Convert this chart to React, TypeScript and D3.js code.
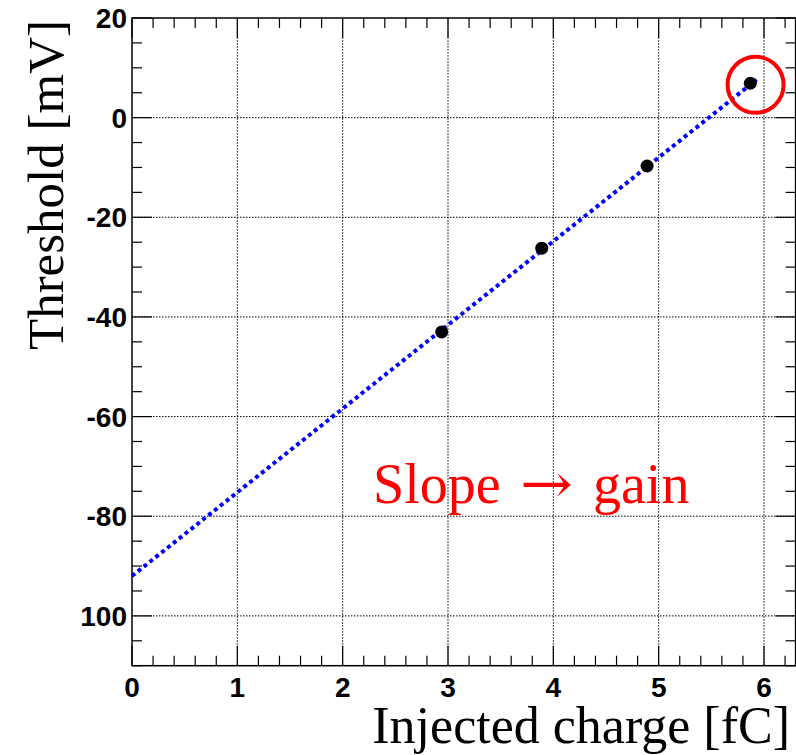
import React from "react";
import * as d3 from "d3";

// Measured thresholds vs injected charge
const charge = [2.94, 3.89, 4.89, 5.87];
const threshold = [-43.0, -26.2, -9.7, 6.9];

// Linear fit: threshold = intercept + slope * charge
const fitIntercept = -92.0;
const fitSlope = 16.8;
const fitRange = [0, 5.93];

const xMajor = [0, 1, 2, 3, 4, 5, 6];
const yMajor = [20, 0, -20, -40, -60, -80, -100];
const yLabels = ["20", "0", "-20", "-40", "-60", "-80", "100"];

// Highlighted point
const highlight = { x: 5.92, y: 6.6 };

const W = 796;
const H = 755;

export default function App() {
  const x = d3.scaleLinear().domain([0, 6.3]).range([132, 795.6]);
  const y = d3.scaleLinear().domain([-110, 20]).range([665.7, 18]);
  const [x0, x1] = x.range();
  const [y0, y1] = y.range();

  const xMinor = d3.range(0, 6.3001, 0.2);
  const yMinor = d3.range(-110, 20.001, 5);

  const fitLine = d3
    .line<number>()
    .x((d) => x(d))
    .y((d) => y(fitIntercept + fitSlope * d));

  const tickFont = "'Liberation Sans', Arial, sans-serif";
  const serif = "'Liberation Serif', 'Times New Roman', serif";

  return (
    <svg
      width={W}
      height={H}
      style={{ position: "absolute", left: 0, top: 0, background: "#fff" }}
    >
      {/* grid */}
      <g stroke="#000" strokeWidth={1} strokeDasharray="1.5,1.5">
        {xMajor
          .filter((v) => v > 0)
          .map((v) => (
            <line key={"gx" + v} x1={x(v)} x2={x(v)} y1={y0} y2={y1} />
          ))}
        {yMajor
          .filter((v) => v < 20)
          .map((v) => (
            <line key={"gy" + v} x1={x0} x2={x1} y1={y(v)} y2={y(v)} />
          ))}
      </g>

      {/* frame */}
      <rect
        x={x0}
        y={y1}
        width={x1 - x0}
        height={y0 - y1}
        fill="none"
        stroke="#000"
        strokeWidth={1.5}
      />

      {/* ticks */}
      <g stroke="#000" strokeWidth={1.2}>
        {xMinor.map((v, i) => {
          const major = Math.abs(v - Math.round(v)) < 1e-6;
          const len = major ? 20 : 10;
          return (
            <g key={"tx" + i}>
              <line x1={x(v)} x2={x(v)} y1={y0} y2={y0 - len} />
              <line x1={x(v)} x2={x(v)} y1={y1} y2={y1 + len} />
            </g>
          );
        })}
        {yMinor.map((v, i) => {
          const major = Math.abs(v % 20) < 1e-6;
          const len = major ? 20 : 10;
          return (
            <g key={"ty" + i}>
              <line x1={x0} x2={x0 + len} y1={y(v)} y2={y(v)} />
              <line x1={x1} x2={x1 - len} y1={y(v)} y2={y(v)} />
            </g>
          );
        })}
      </g>

      {/* tick labels */}
      <g fontFamily={tickFont} fontWeight="bold" fontSize={28} fill="#000">
        {xMajor.map((v) => (
          <text key={"lx" + v} x={x(v)} y={697} textAnchor="middle">
            {String(v)}
          </text>
        ))}
        {yMajor.map((v, i) => (
          <text
            key={"ly" + v}
            x={127}
            y={y(v)}
            dy="0.36em"
            textAnchor="end"
          >
            {yLabels[i]}
          </text>
        ))}
      </g>

      {/* axis titles */}
      <text
        x={790}
        y={743}
        textAnchor="end"
        fontFamily={serif}
        fontSize={52}
        fill="#000"
      >
        Injected charge [fC]
      </text>
      <text
        transform={`translate(63, ${y1 + 2}) rotate(-90)`}
        textAnchor="end"
        fontFamily={serif}
        fontSize={51}
        fill="#000"
      >
        Threshold [mV]
      </text>

      {/* fit line */}
      <path
        d={fitLine(d3.range(fitRange[0], fitRange[1] + 1e-9, fitRange[1] / 50)) || ""}
        fill="none"
        stroke="#0000ff"
        strokeWidth={4}
        strokeDasharray="4,3.5"
      />

      {/* data points */}
      <g fill="#000">
        {charge.map((c, i) => (
          <circle key={"p" + i} cx={x(c)} cy={y(threshold[i])} r={6.5} />
        ))}
      </g>

      {/* highlight ring */}
      <circle
        cx={x(highlight.x)}
        cy={y(highlight.y)}
        r={28}
        fill="none"
        stroke="#ff0000"
        strokeWidth={4}
      />

      {/* annotation */}
      <text
        x={373}
        y={503}
        fontFamily={serif}
        fontSize={56}
        fill="#ff0000"
      >
        <tspan>Slope</tspan>
        <tspan
          x={520}
          fontFamily="'DejaVu Serif', serif"
          textLength={53}
          lengthAdjust="spacingAndGlyphs"
        >
          →
        </tspan>
        <tspan x={593}>gain</tspan>
      </text>
    </svg>
  );
}
